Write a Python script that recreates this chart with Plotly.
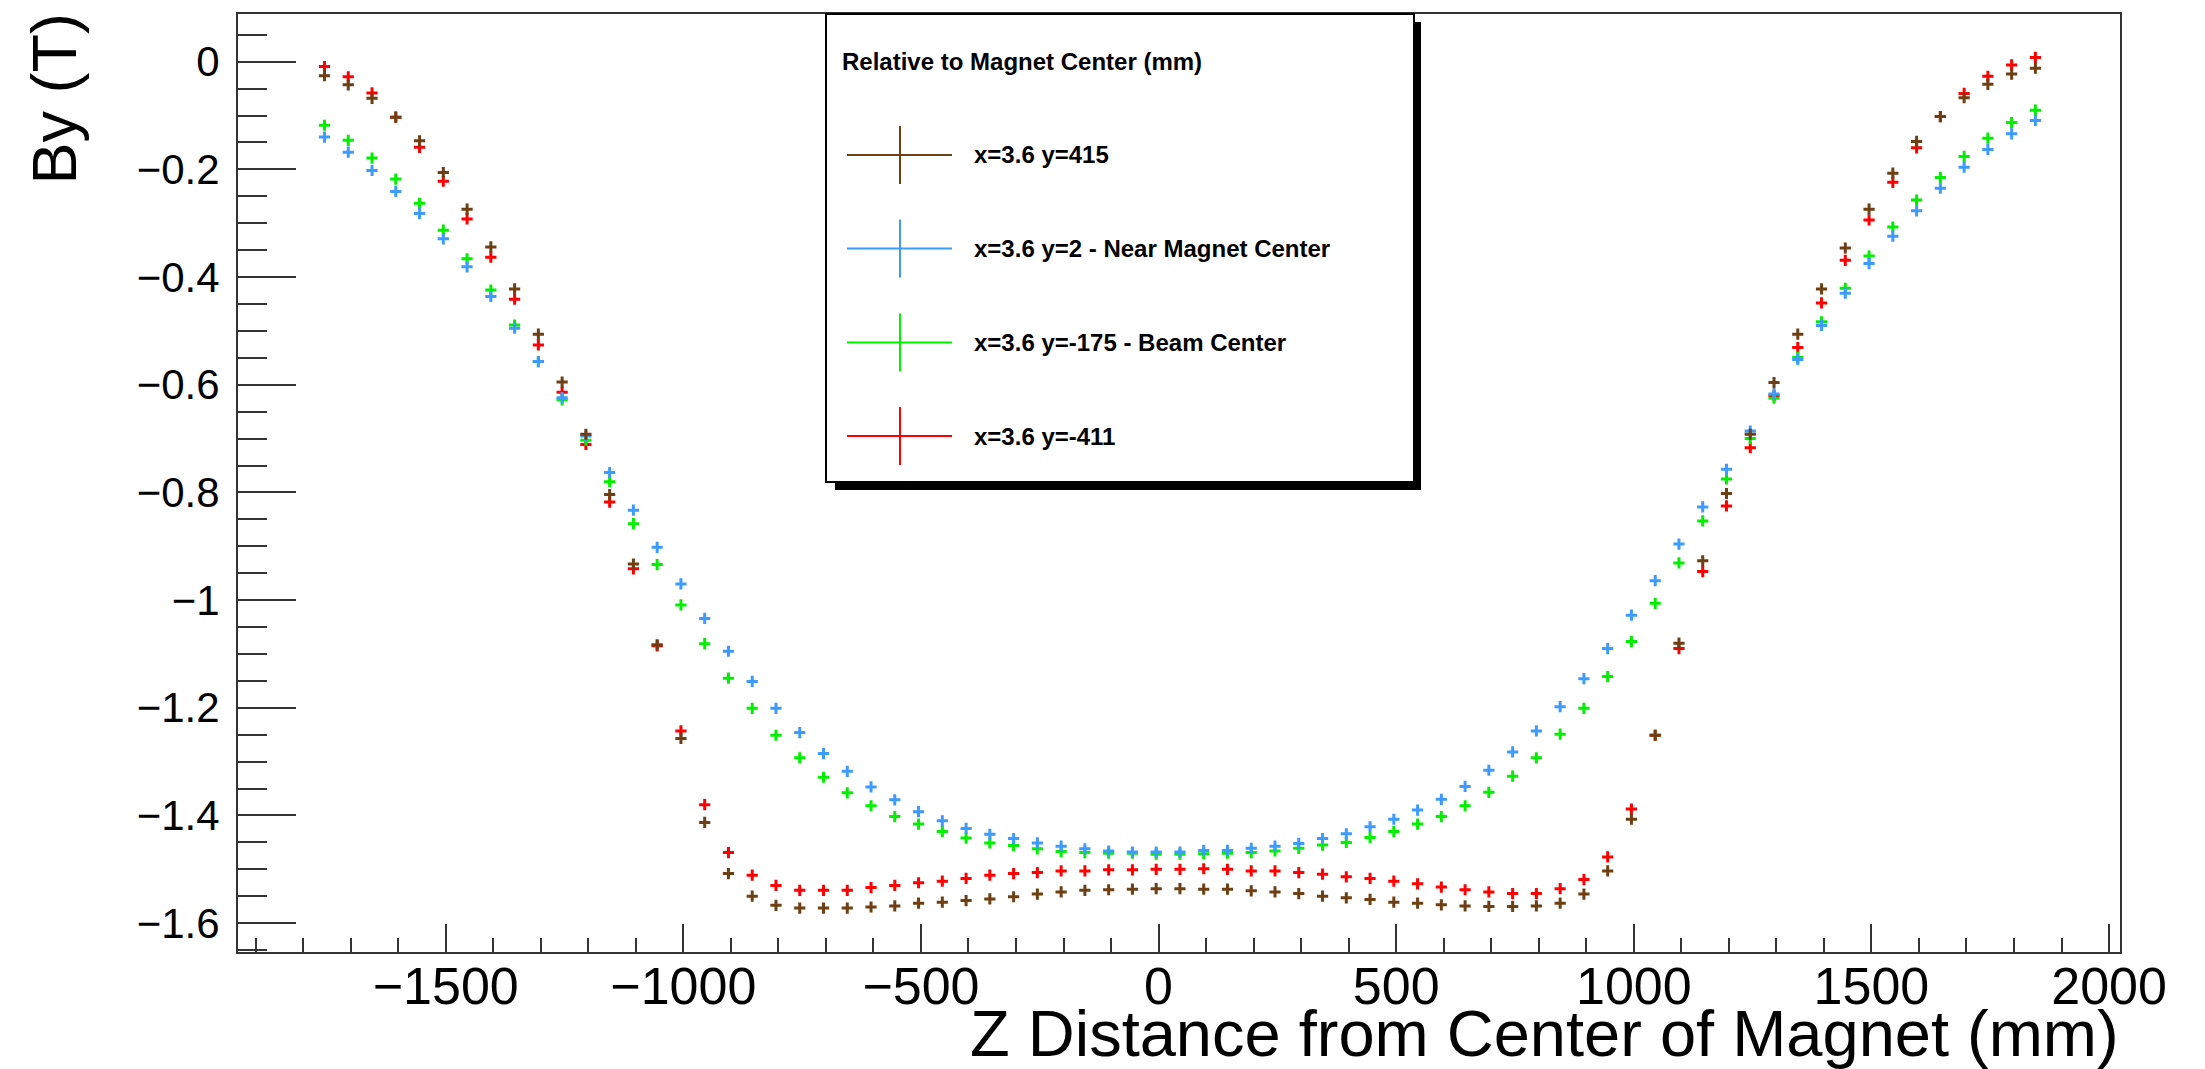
import plotly.graph_objects as go

# Z positions along the magnet axis (mm)
z_mm = [
    -1755, -1705, -1655, -1605, -1555, -1505, -1455, -1405, -1355, -1305,
    -1255, -1205, -1155, -1105, -1055, -1005, -955, -905, -855, -805,
    -755, -705, -655, -605, -555, -505, -455, -405, -355, -305,
    -255, -205, -155, -105, -55, -5, 45, 95, 145, 195,
    245, 295, 345, 395, 445, 495, 545, 595, 645, 695,
    745, 795, 845, 895, 945, 995, 1045, 1095, 1145, 1195,
    1245, 1295, 1345, 1395, 1445, 1495, 1545, 1595, 1645, 1695,
    1745, 1795, 1845,
]

# By (T) at x=3.6, y=415
by_y415 = [
    -0.026, -0.043, -0.068, -0.103, -0.147, -0.206, -0.274, -0.344, -0.422, -0.506,
    -0.595, -0.692, -0.804, -0.933, -1.083, -1.257, -1.413, -1.508, -1.550, -1.567,
    -1.572, -1.572, -1.572, -1.570, -1.568, -1.563, -1.561, -1.558, -1.555, -1.551,
    -1.546, -1.542, -1.539, -1.538, -1.537, -1.536, -1.536, -1.537, -1.537, -1.540,
    -1.542, -1.545, -1.550, -1.553, -1.556, -1.561, -1.563, -1.566, -1.568, -1.569,
    -1.569, -1.568, -1.563, -1.546, -1.503, -1.407, -1.251, -1.080, -0.927, -0.802,
    -0.692, -0.596, -0.506, -0.422, -0.346, -0.274, -0.207, -0.148, -0.102, -0.067,
    -0.042, -0.023, -0.012,
]

# By (T) at x=3.6, y=2 (near magnet center)
by_y2 = [
    -0.140, -0.168, -0.202, -0.241, -0.282, -0.329, -0.381, -0.436, -0.495, -0.557,
    -0.624, -0.695, -0.763, -0.833, -0.902, -0.970, -1.034, -1.095, -1.151, -1.201,
    -1.246, -1.285, -1.318, -1.347, -1.371, -1.393, -1.410, -1.424, -1.435, -1.443,
    -1.451, -1.457, -1.462, -1.466, -1.468, -1.468, -1.468, -1.465, -1.465, -1.461,
    -1.457, -1.452, -1.443, -1.434, -1.421, -1.407, -1.390, -1.370, -1.346, -1.316,
    -1.282, -1.243, -1.198, -1.146, -1.090, -1.028, -0.964, -0.896, -0.827, -0.757,
    -0.686, -0.617, -0.553, -0.490, -0.430, -0.375, -0.324, -0.277, -0.235, -0.196,
    -0.163, -0.134, -0.109,
]

# By (T) at x=3.6, y=-175 (beam center)
by_ym175 = [
    -0.118, -0.146, -0.179, -0.218, -0.263, -0.313, -0.366, -0.424, -0.489, -0.557,
    -0.628, -0.703, -0.780, -0.858, -0.934, -1.009, -1.081, -1.145, -1.201, -1.251,
    -1.293, -1.329, -1.358, -1.382, -1.402, -1.416, -1.430, -1.442, -1.451, -1.456,
    -1.462, -1.467, -1.469, -1.470, -1.470, -1.472, -1.472, -1.471, -1.470, -1.469,
    -1.466, -1.461, -1.455, -1.450, -1.441, -1.430, -1.416, -1.402, -1.382, -1.357,
    -1.327, -1.293, -1.249, -1.201, -1.142, -1.077, -1.006, -0.931, -0.853, -0.775,
    -0.700, -0.625, -0.549, -0.483, -0.421, -0.361, -0.307, -0.257, -0.215, -0.176,
    -0.142, -0.113, -0.090,
]

# By (T) at x=3.6, y=-411
by_ym411 = [
    -0.009, -0.028, -0.058, -0.103, -0.159, -0.222, -0.292, -0.363, -0.441, -0.526,
    -0.614, -0.711, -0.818, -0.942, -1.085, -1.243, -1.380, -1.469, -1.511, -1.530,
    -1.539, -1.539, -1.539, -1.534, -1.530, -1.525, -1.522, -1.517, -1.511, -1.508,
    -1.506, -1.503, -1.503, -1.501, -1.501, -1.500, -1.500, -1.499, -1.500, -1.503,
    -1.503, -1.506, -1.509, -1.514, -1.517, -1.522, -1.527, -1.533, -1.538, -1.542,
    -1.545, -1.545, -1.536, -1.519, -1.477, -1.388, -1.251, -1.090, -0.947, -0.825,
    -0.717, -0.620, -0.531, -0.448, -0.369, -0.294, -0.224, -0.160, -0.102, -0.059,
    -0.027, -0.006, 0.008,
]

series_labels = [
    "x=3.6 y=415",
    "x=3.6 y=2 - Near Magnet Center",
    "x=3.6 y=-175 - Beam Center",
    "x=3.6 y=-411",
]
series_values = [by_y415, by_y2, by_ym175, by_ym411]
series_colors = ["#6e3f12", "#3d9bff", "#00f000", "#ff0000"]

FONT = "Liberation Sans, Arial, Helvetica, sans-serif"

# canvas geometry (pixels)
W_PX, H_PX = 2205, 1069
L, R, T, B = 238, 85, 14, 117
PW, PH = W_PX - L - R, H_PX - T - B


def px(xp):
    return (xp - L) / PW


def py(yp):
    return (T + PH - yp) / PH


fig = go.Figure()

# draw order: last legend entry first so the y=415 points sit on top
for label, vals, col in reversed(list(zip(series_labels, series_values, series_colors))):
    fig.add_trace(go.Scatter(
        x=z_mm, y=vals, mode="markers", name=label,
        marker=dict(symbol="cross-thin", size=8, color=col,
                    line=dict(color=col, width=3)),
        showlegend=False,
    ))

axis_color = "#333333"
fig.update_xaxes(
    range=[-1937, 2023], dtick=500, tick0=0,
    ticks="inside", ticklen=28, tickwidth=2, tickcolor=axis_color,
    minor=dict(dtick=100, tick0=0, ticks="inside", ticklen=14,
               tickwidth=2, tickcolor=axis_color),
    showline=True, linecolor=axis_color, linewidth=2, mirror=True,
    showgrid=False, zeroline=False,
    tickfont=dict(family=FONT, size=52, color="black"),
    ticklabelstandoff=-12,
)
fig.update_yaxes(
    range=[-1.6536, 0.0886], dtick=0.2, tick0=0,
    ticks="inside", ticklen=58, tickwidth=2, tickcolor=axis_color,
    minor=dict(dtick=0.05, tick0=0, ticks="inside", ticklen=29,
               tickwidth=2, tickcolor=axis_color),
    showline=True, linecolor=axis_color, linewidth=2, mirror=True,
    showgrid=False, zeroline=False,
    tickfont=dict(family=FONT, size=42, color="black"),
    ticklabelstandoff=8,
)

shapes = []
annotations = []

# legend box with drop shadow
shapes.append(dict(type="rect", xref="paper", yref="paper",
                   x0=px(835), x1=px(1421), y0=py(490), y1=py(22),
                   fillcolor="black", line=dict(width=0), layer="above"))
shapes.append(dict(type="rect", xref="paper", yref="paper",
                   x0=px(826), x1=px(1414), y0=py(482), y1=py(14),
                   fillcolor="white", line=dict(color="black", width=2),
                   layer="above"))

annotations.append(dict(
    text="<b>Relative to Magnet Center (mm)</b>", xref="paper", yref="paper",
    x=px(840), y=py(62), xanchor="left", yanchor="middle", showarrow=False,
    font=dict(family=FONT, size=24, color="black"),
))

entry_y = [155, 248.5, 342.5, 436]
for label, col, yc in zip(series_labels, series_colors, entry_y):
    shapes.append(dict(type="line", xref="paper", yref="paper",
                       x0=px(847), x1=px(952), y0=py(yc), y1=py(yc),
                       line=dict(color=col, width=2), layer="above"))
    shapes.append(dict(type="line", xref="paper", yref="paper",
                       x0=px(900), x1=px(900), y0=py(yc - 29), y1=py(yc + 29),
                       line=dict(color=col, width=2), layer="above"))
    annotations.append(dict(
        text="<b>" + label + "</b>", xref="paper", yref="paper",
        x=px(972), y=py(yc), xanchor="left", yanchor="middle", showarrow=False,
        font=dict(family=FONT, size=24, color="black"),
    ))

# axis titles, aligned to the ends of the axes
annotations.append(dict(
    text="Z Distance from Center of Magnet (mm)", xref="paper", yref="paper",
    x=px(2121), y=py(1033), xanchor="right", yanchor="middle", showarrow=False,
    font=dict(family=FONT, size=65, color="black"),
))
annotations.append(dict(
    text="By (T)", xref="paper", yref="paper", textangle=-90,
    x=px(53), y=py(12), xanchor="center", yanchor="top", showarrow=False,
    font=dict(family=FONT, size=63, color="black"),
))

fig.update_layout(
    width=W_PX, height=H_PX,
    margin=dict(l=L, r=R, t=T, b=B),
    paper_bgcolor="white", plot_bgcolor="white",
    shapes=shapes, annotations=annotations,
    showlegend=False,
)

fig.write_html("out.html", config={"displayModeBar": False})
